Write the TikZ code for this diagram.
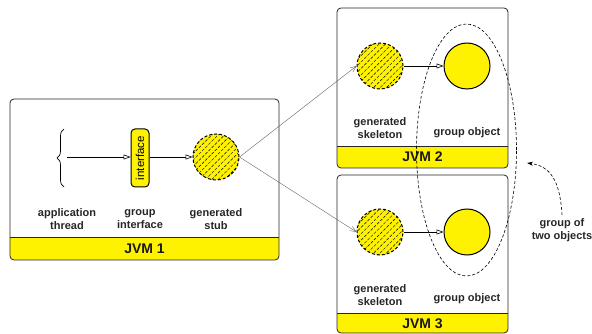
\documentclass[tikz,border=0pt]{standalone}
\usepackage{fontspec}
\setmainfont{Liberation Sans}
\usetikzlibrary{arrows.meta,patterns.meta,decorations.pathreplacing,shapes.geometric}
\begin{document}
\begin{tikzpicture}[x=1pt,y=-1pt,
  jvm/.style={draw=black!85, rounded corners=4pt, line width=0.8pt, inner sep=0pt},
  bandline/.style={draw=black!85, line width=0.8pt},
  stubc/.style={circle, minimum size=46pt, inner sep=0pt, draw, dash pattern=on 3pt off 2pt, line width=1pt, fill=yellow, postaction={pattern={Lines[angle=45,distance=4.5pt,line width=0.45pt]}}},
  objc/.style={circle, minimum size=46pt, inner sep=0pt, draw, fill=yellow, line width=1pt},
  lbl/.style={font=\bfseries\fontsize{11}{13}\selectfont, align=center, text=black!85},
  jvmlbl/.style={font=\bfseries\fontsize{14}{16}\selectfont, text=black!90},
  openarr/.style={-{Triangle[open,length=7pt,width=5pt]}, line width=0.6pt},
  remote/.style={-{Straight Barb[length=6pt,width=5pt]}, draw=black!60, line width=0.4pt}
]
\useasboundingbox (0,0) rectangle (592,334);

% ---- JVM 1 ----
\begin{scope}
  \clip[rounded corners=4pt] (10,99) rectangle (279,260);
  \fill[yellow] (10,237) rectangle (279,260);
\end{scope}
\draw[bandline] (10,237) -- (279,237);
\node[jvm, minimum width=269pt, minimum height=161pt] (jvm1) at (144.5,179.5) {};
\node[jvmlbl] (jvm1lbl) at (144.5,248.5) {JVM 1};

% ---- JVM 2 ----
\begin{scope}
  \clip[rounded corners=4pt] (337,8) rectangle (508,168);
  \fill[yellow] (337,146) rectangle (508,168);
\end{scope}
\draw[bandline] (337,146) -- (508,146);
\node[jvm, minimum width=171pt, minimum height=160pt] (jvm2) at (422.5,88) {};
\node[jvmlbl] (jvm2lbl) at (422.5,157) {JVM 2};

% ---- JVM 3 ----
\begin{scope}
  \clip[rounded corners=4pt] (337,175) rectangle (508,333);
  \fill[yellow] (337,313) rectangle (508,333);
\end{scope}
\draw[bandline] (337,313) -- (508,313);
\node[jvm, minimum width=171pt, minimum height=158pt] (jvm3) at (422.5,254) {};
\node[jvmlbl] (jvm3lbl) at (422.5,323.5) {JVM 3};

% ---- JVM 1 content ----
\draw[decorate, decoration={brace, amplitude=7pt}, line width=0.7pt] (64,187) -- (64,129);
\coordinate (thread) at (67,157);
\node[draw, fill=yellow, rounded corners=4pt, minimum width=18pt, minimum height=58pt, inner sep=0pt, line width=1pt] (iface) at (140,158)
  {\rotatebox{90}{\fontsize{11.5}{12}\selectfont interface}};
\node[stubc] (stub) at (216,157) {};
\draw[openarr] (thread) -- (iface.west |- thread);
\draw[openarr] (iface.east |- stub) -- (stub.west);

\node[lbl] (l1) at (67,219.5) {application\\thread};
\node[lbl] (l2) at (140,219.5) {group\\interface};
\node[lbl] (l3) at (216,219.5) {generated\\stub};

% ---- JVM 2 content ----
\node[stubc] (skel2) at (380,66) {};
\node[objc] (obj2) at (467,66) {};
\draw[openarr] (skel2.east) -- (obj2.west);
\node[lbl] (l4) at (380,128) {generated\\skeleton};
\node[lbl] (l5) at (467,133) {group object};

% ---- JVM 3 content ----
\node[stubc] (skel3) at (380,232) {};
\node[objc] (obj3) at (467,232) {};
\draw[openarr] (skel3.east) -- (obj3.west);
\node[lbl] (l6) at (380,295) {generated\\skeleton};
\node[lbl] (l7) at (467,299) {group object};

% ---- remote calls ----
\draw[remote] (stub.east) -- (skel2.west);
\draw[remote] (stub.east) -- (skel3.west);

% ---- group ----
\node[ellipse, draw, dash pattern=on 3pt off 2pt, line width=0.6pt, minimum width=100pt, minimum height=252pt, inner sep=0pt] (group) at (466.5,150) {};
\node[lbl] (grouplbl) at (562,230) {group of\\two objects};
\coordinate (gtip) at (527,163);
\draw[dash pattern=on 3pt off 2pt, line width=0.6pt, -{Stealth[length=6pt,width=4pt]}] (grouplbl.north) .. controls (560,180) and (550,166) .. (gtip);
\end{tikzpicture}
\end{document}
